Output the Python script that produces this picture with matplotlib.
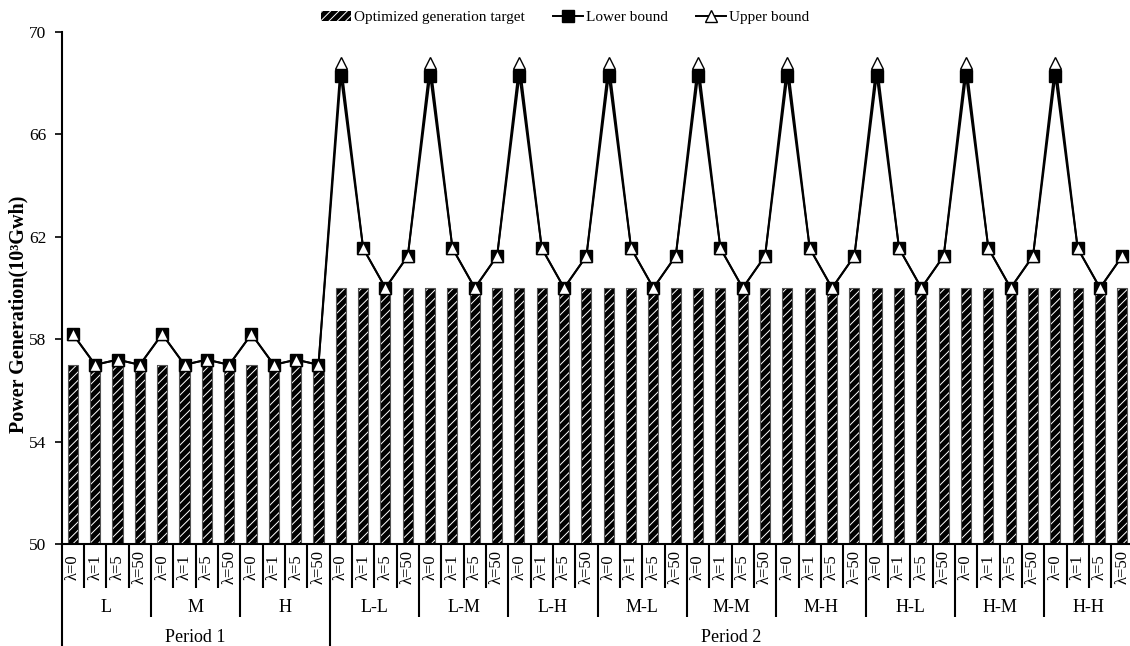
import numpy as np
import matplotlib
matplotlib.use("Agg")
import matplotlib.pyplot as plt
import matplotlib.transforms as mtransforms

plt.rcParams['font.family'] = ['Liberation Serif', 'DejaVu Serif']
plt.rcParams['hatch.linewidth'] = 0.7

lambdas = ['λ=0', 'λ=1', 'λ=5', 'λ=50']
groups_p1 = ['L', 'M', 'H']
groups_p2 = ['L-L', 'L-M', 'L-H', 'M-L', 'M-M', 'M-H', 'H-L', 'H-M', 'H-H']
periods = ['Period 1', 'Period 2']

# one scenario block per group, repeated over the groups of each period
target_p1 = [57.0, 57.0, 57.0, 57.0]
lower_p1 = [58.2, 57.0, 57.2, 57.0]
upper_p1 = [58.2, 57.0, 57.2, 57.0]

target_p2 = [60.0, 60.0, 60.0, 60.0]
lower_p2 = [68.3, 61.55, 60.0, 61.25]
upper_p2 = [68.8, 61.55, 60.0, 61.25]

target = np.array(target_p1 * len(groups_p1) + target_p2 * len(groups_p2))
lower = np.array(lower_p1 * len(groups_p1) + lower_p2 * len(groups_p2))
upper = np.array(upper_p1 * len(groups_p1) + upper_p2 * len(groups_p2))

n = len(target)
x = np.arange(n)

fig = plt.figure(figsize=(11.30, 6.46), dpi=100)
ax = fig.add_axes([61.7 / 1130, 102 / 646, 1071.8 / 1130, 512 / 646])

bars = ax.bar(x, target, width=0.45, color='black', edgecolor='white',
              hatch='////', linewidth=0, zorder=2,
              label='Optimized generation target')
ax.bar(x, target, width=0.45, fill=False, edgecolor='#555555',
       linewidth=0.8, zorder=2)

ax.plot(x, lower, color='black', lw=1.4, marker='s', markersize=9,
        markerfacecolor='black', markeredgecolor='black', zorder=3,
        label='Lower bound')
ax.plot(x, upper, color='black', lw=1.4, marker='^', markersize=8.5,
        markerfacecolor='white', markeredgecolor='black',
        markeredgewidth=1.0, zorder=4, label='Upper bound')

ax.set_xlim(-0.5, n - 0.5)
ax.set_ylim(50, 70)
ax.set_yticks([50, 54, 58, 62, 66, 70])
ax.tick_params(axis='y', direction='out', length=5, width=1.2,
               labelsize=12.5, pad=6)
ax.set_xticks([])
for side in ['top', 'right']:
    ax.spines[side].set_visible(False)
for side in ['left', 'bottom']:
    ax.spines[side].set_linewidth(1.5)

fig.text(18 / 1130, (646 - 314) / 646, 'Power Generation(10³Gwh)',
         rotation=90, ha='center', va='center', fontsize=14.5,
         fontweight='bold')

# hierarchical category axis below the plot
trans = mtransforms.blended_transform_factory(ax.transData, ax.transAxes)
y_lam, y_grp, y_per = -0.0859, -0.1426, -0.205


def vline(xpos, ybottom):
    ax.plot([xpos, xpos], [0, ybottom], color='black', lw=1.5,
            transform=trans, clip_on=False, solid_capstyle='butt')


for i in range(n):
    ax.text(i, -0.045, lambdas[i % 4], rotation=90, ha='center',
            va='center', fontsize=12, transform=trans)
    if i % 4 != 0:
        vline(i - 0.5, y_lam)

all_groups = groups_p1 + groups_p2
for g, name in enumerate(all_groups):
    ax.text(g * 4 + 1.5, -0.125, name, ha='center', va='center',
            fontsize=13, transform=trans)
    if g not in (0, len(groups_p1)):
        vline(g * 4 - 0.5, y_grp)

p1_len = len(groups_p1) * 4
vline(-0.5, y_per)
vline(p1_len - 0.5, y_per)
ax.text((p1_len - 1) / 2, -0.182, periods[0], ha='center', va='center',
        fontsize=13, transform=trans)
ax.text((p1_len + n - 1) / 2, -0.182, periods[1], ha='center',
        va='center', fontsize=13, transform=trans)

handles, labels = ax.get_legend_handles_labels()
order = [labels.index('Optimized generation target'),
         labels.index('Lower bound'), labels.index('Upper bound')]
fig.legend([handles[i] for i in order], [labels[i] for i in order],
           loc='upper center', bbox_to_anchor=(0.5, 1.005), ncol=3,
           frameon=False, fontsize=11, handlelength=2.0,
           columnspacing=1.8, handletextpad=0.2)

fig.savefig('out.png', dpi=100)
